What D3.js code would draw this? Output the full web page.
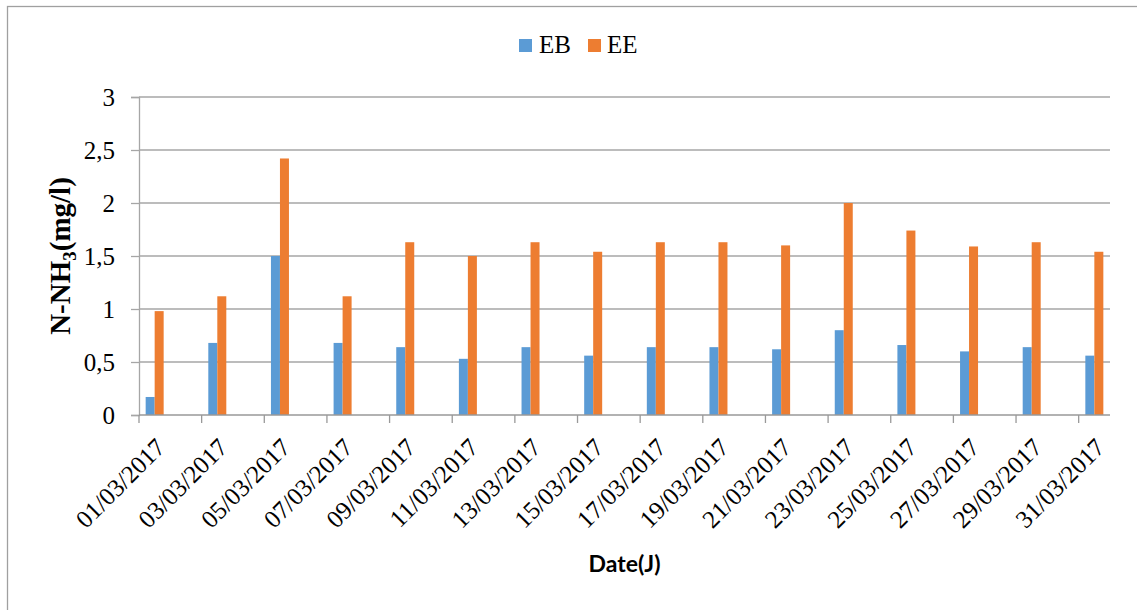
<!DOCTYPE html>
<html>
<head>
<meta charset="utf-8">
<script src="https://cdn.jsdelivr.net/npm/d3@7"></script>
<style>
  html, body { margin: 0; padding: 0; background: #fff; }
  svg { display: block; }
  .serif { font-family: "Liberation Serif", "Times New Roman", Tinos, "DejaVu Serif", serif; }
  .sans { font-family: Lato, "Open Sans", sans-serif; }
</style>
</head>
<body>
<svg id="chart" width="1137" height="610"></svg>
<script>
// Sampling dates (every second day of March 2017)
const dates = ["01/03/2017","03/03/2017","05/03/2017","07/03/2017","09/03/2017","11/03/2017",
               "13/03/2017","15/03/2017","17/03/2017","19/03/2017","21/03/2017","23/03/2017",
               "25/03/2017","27/03/2017","29/03/2017","31/03/2017"];
const seriesNames = ["EB", "EE"];
// N-NH3 concentration (mg/l)
const ebValues = [0.17, 0.68, 1.50, 0.68, 0.64, 0.53, 0.64, 0.56, 0.64, 0.64, 0.62, 0.80, 0.66, 0.60, 0.64, 0.56];
const eeValues = [0.98, 1.12, 2.42, 1.12, 1.63, 1.50, 1.63, 1.54, 1.63, 1.63, 1.60, 2.00, 1.74, 1.59, 1.63, 1.54];
const yTicks = [0, 0.5, 1, 1.5, 2, 2.5, 3];
const colors = { EB: "#5b9bd5", EE: "#ed7d31" };

const svg = d3.select("#chart");
const margin = { left: 139, right: 1110, top: 97, bottom: 415 };

// Outer chart frame
svg.append("rect")
  .attr("x", 7.5).attr("y", 6.5)
  .attr("width", 1200).attr("height", 700)
  .attr("fill", "none").attr("stroke", "#a0a0a0").attr("stroke-width", 1.3);

// Date axis: one band per day of the month
const days = d3.range(1, 32);
const dayOf = s => +s.slice(0, 2);
const x = d3.scaleBand().domain(days).range([margin.left, margin.right]).padding(0);
const xInner = d3.scaleBand().domain(seriesNames).range([0, 18]).padding(0);
const y = d3.scaleLinear().domain([0, 3]).range([margin.bottom, margin.top]);

const fmt = v => String(v).replace(".", ",");

// Horizontal gridlines
svg.append("g").selectAll("line").data(yTicks.filter(t => t > 0)).join("line")
  .attr("x1", margin.left).attr("x2", margin.right)
  .attr("y1", d => y(d)).attr("y2", d => y(d))
  .attr("stroke", "#a6a6a6").attr("stroke-width", 1.3);

// Y axis
const yAxis = svg.append("g")
  .attr("transform", `translate(${margin.left},0)`)
  .call(d3.axisLeft(y).tickValues(yTicks).tickFormat(fmt).tickSize(8).tickPadding(16));
yAxis.attr("font-family", null).attr("font-size", null);
yAxis.select(".domain").attr("stroke", "#a6a6a6").attr("stroke-width", 1.3);
yAxis.selectAll(".tick line").attr("stroke", "#a6a6a6").attr("stroke-width", 1.3);
yAxis.selectAll("text")
  .attr("class", "serif")
  .attr("font-size", 25).attr("fill", "#000").attr("dy", "0.33em");

// Bars
const rows = dates.map((d, i) => ({ date: d, day: dayOf(d), EB: ebValues[i], EE: eeValues[i] }));
const groups = svg.append("g").selectAll("g").data(rows).join("g")
  .attr("transform", d => `translate(${x(d.day) + x.bandwidth() / 2 - 9},0)`);
groups.selectAll("rect")
  .data(d => seriesNames.map(k => ({ key: k, value: d[k] })))
  .join("rect")
  .attr("x", d => xInner(d.key))
  .attr("width", xInner.bandwidth())
  .attr("y", d => y(d.value))
  .attr("height", d => y(0) - y(d.value))
  .attr("fill", d => colors[d.key]);

// X axis line and ticks every two days
svg.append("line")
  .attr("x1", margin.left).attr("x2", margin.right)
  .attr("y1", y(0)).attr("y2", y(0))
  .attr("stroke", "#999").attr("stroke-width", 1.5);
svg.append("g").selectAll("line").data(dates).join("line")
  .attr("x1", d => x(dayOf(d))).attr("x2", d => x(dayOf(d)))
  .attr("y1", y(0)).attr("y2", y(0) + 8)
  .attr("stroke", "#999").attr("stroke-width", 1.3);

// Rotated date labels
svg.append("g").selectAll("text").data(dates).join("text")
  .attr("class", "serif")
  .attr("transform", d => `translate(${x(dayOf(d)) + x.bandwidth() / 2 + 6},${y(0) + 28}) rotate(-45)`)
  .attr("text-anchor", "end")
  .attr("dy", "0.33em")
  .attr("font-size", 25).attr("fill", "#000")
  .text(d => d);

// Axis titles
svg.append("text")
  .attr("class", "sans")
  .attr("x", (margin.left + margin.right) / 2).attr("y", 572)
  .attr("text-anchor", "middle")
  .attr("font-weight", 700).attr("font-size", 23).attr("fill", "#000")
  .text("Date(J)");

const yTitle = svg.append("text")
  .attr("class", "serif")
  .attr("transform", `translate(70,${(margin.top + margin.bottom) / 2}) rotate(-90)`)
  .attr("text-anchor", "middle")
  .attr("font-weight", 700).attr("font-size", 29).attr("fill", "#000");
yTitle.append("tspan").text("N-NH");
yTitle.append("tspan").attr("font-size", 19).attr("dy", 6).text("3");
yTitle.append("tspan").attr("dy", -6).text("(mg/l)");

// Legend
const legendItems = [
  { key: "EB", sx: 519, tx: 539 },
  { key: "EE", sx: 588, tx: 607 }
];
const legend = svg.append("g");
legend.selectAll("rect").data(legendItems).join("rect")
  .attr("x", d => d.sx).attr("y", 39).attr("width", 13).attr("height", 13)
  .attr("fill", d => colors[d.key]);
legend.selectAll("text").data(legendItems).join("text")
  .attr("class", "serif")
  .attr("x", d => d.tx).attr("y", 53)
  .attr("font-size", 25).attr("fill", "#000")
  .text(d => d.key);
</script>
</body>
</html>
